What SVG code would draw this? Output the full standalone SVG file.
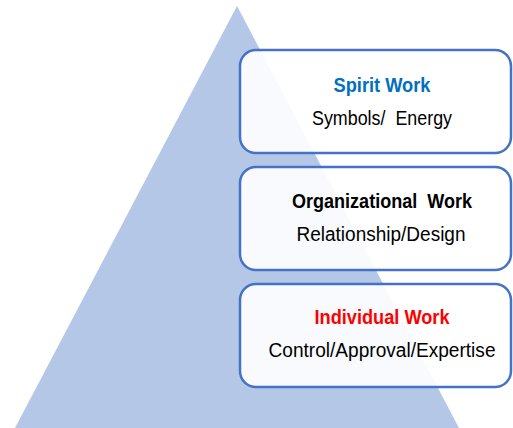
<svg xmlns="http://www.w3.org/2000/svg" width="513" height="428" viewBox="0 0 513 428">
  <style>
    .box { fill: #ffffff; fill-opacity: 0.9; stroke: #4472c4; stroke-width: 2.5; }
    text { white-space: pre; }
    .title { font-family: "Liberation Sans", Arial, sans-serif; font-size: 20px; font-weight: bold; text-anchor: middle; }
    .sub { font-family: "Liberation Sans", Arial, sans-serif; font-size: 20px; fill: #000000; text-anchor: middle; }
  </style>
  <rect width="513" height="428" fill="#ffffff"/>
  <!-- pyramid backdrop -->
  <polygon id="pyramid" points="237,6 15,428 459,428" fill="#b4c7e7"/>
  <g id="connectors"/>
  <g id="spirit">
    <rect class="box" x="240" y="50" width="271" height="103" rx="16"/>
    <text class="title" x="382" y="92" fill="#0070c0" textLength="97" lengthAdjust="spacingAndGlyphs" xml:space="preserve">Spirit Work</text>
    <text class="sub" x="382" y="125" textLength="140" lengthAdjust="spacingAndGlyphs" xml:space="preserve">Symbols/  Energy</text>
  </g>
  <g id="organizational">
    <rect class="box" x="240" y="167" width="271" height="103" rx="16"/>
    <text class="title" x="382" y="208" fill="#000000" textLength="180" lengthAdjust="spacingAndGlyphs" xml:space="preserve">Organizational  Work</text>
    <text class="sub" x="381" y="241" textLength="169" lengthAdjust="spacingAndGlyphs" xml:space="preserve">Relationship/Design</text>
  </g>
  <g id="individual">
    <rect class="box" x="240" y="284" width="271" height="103" rx="16"/>
    <text class="title" x="382" y="324" fill="#ff0000" textLength="135" lengthAdjust="spacingAndGlyphs" xml:space="preserve">Individual Work</text>
    <text class="sub" x="382" y="357" textLength="227" lengthAdjust="spacingAndGlyphs" xml:space="preserve">Control/Approval/Expertise</text>
  </g>
</svg>
